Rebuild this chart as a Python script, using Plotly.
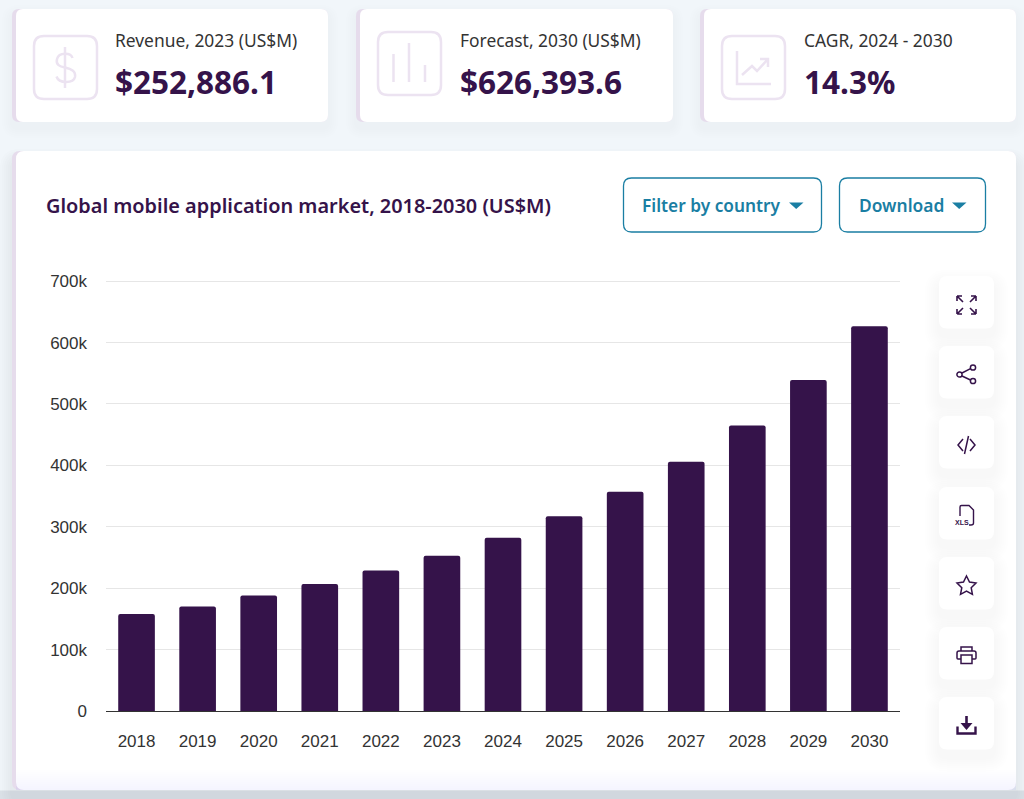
import re
import plotly.graph_objects as go

# chart values
years = ["2018", "2019", "2020", "2021", "2022", "2023", "2024", "2025", "2026", "2027", "2028", "2029", "2030"]
revenue = [158000, 170000, 188000, 207000, 229000, 252886.1, 282000, 317000, 357000, 406000, 465000, 539000, 626393.6]
y_ticks = [0, 100000, 200000, 300000, 400000, 500000, 600000, 700000]
y_tick_labels = ["0", "100k", "200k", "300k", "400k", "500k", "600k", "700k"]

chart_title = "Global mobile application market, 2018-2030 (US$M)"
card_labels = ["Revenue, 2023 (US$M)", "Forecast, 2030 (US$M)", "CAGR, 2024 - 2030"]
card_values = ["$252,886.1", "$626,393.6", "14.3%"]

W, H = 1024, 799
# top margin leaves 2px above the 700k line, plotly drops a gridline sitting on the plot edge
L, R, T, B = 106, 124, 279, 88

PURPLE = "#35134a"
ACCENT = "#ece3f1"
BAND = "#e6dcec"
TEAL = "#1a7ea3"
PAGE = "#f1f6fa"
SANS = "Noto Sans"


def px(x):
    return (x - L) / (W - L - R)


def py(y):
    return 1 - (y - T) / (H - T - B)


def to_paper(d):
    # path written in page pixels -> paper coordinates
    nums = iter(range(10 ** 6))

    def conv(m):
        v = float(m.group())
        return f"{px(v):.5f}" if next(nums) % 2 == 0 else f"{py(v):.5f}"
    return re.sub(r"-?\d+\.?\d*", conv, d)


shapes = []


def path(d, fill=None, line=None, width=1.5):
    shapes.append(dict(
        type="path", xref="paper", yref="paper", path=to_paper(d), layer="below",
        fillcolor=fill or "rgba(0,0,0,0)",
        line=dict(color=line or "rgba(0,0,0,0)", width=width if line else 0),
    ))


def rrect_d(x0, y0, x1, y1, r):
    return (f"M {x0 + r} {y0} L {x1 - r} {y0} Q {x1} {y0} {x1} {y0 + r} "
            f"L {x1} {y1 - r} Q {x1} {y1} {x1 - r} {y1} L {x0 + r} {y1} "
            f"Q {x0} {y1} {x0} {y1 - r} L {x0} {y0 + r} Q {x0} {y0} {x0 + r} {y0} Z")


def rrect(x0, y0, x1, y1, r, fill=None, line=None, width=1.5):
    path(rrect_d(x0, y0, x1, y1, r), fill, line, width)


def circle(cx, cy, r, line):
    shapes.append(dict(
        type="circle", xref="paper", yref="paper", layer="below",
        x0=px(cx - r), x1=px(cx + r), y0=py(cy + r), y1=py(cy - r),
        line=dict(color=line, width=1.5),
    ))


def shadow(x0, y0, x1, y1, r, spread, dy, alpha):
    for i in range(spread, 0, -2):
        rrect(x0 - i, y0 - i + dy, x1 + i, y1 + i + dy, r + i, fill=f"rgba(70,90,110,{alpha})")


def text(x, y, s, size, color, font=SANS, weight=400, anchor="left"):
    annotations.append(dict(
        x=px(x), y=py(y), xref="paper", yref="paper", text=s, showarrow=False,
        xanchor=anchor, yanchor="middle", xshift=0, borderpad=0,
        font=dict(family=font, size=size, color=color, weight=weight),
    ))


annotations = []

# main panel and top cards
shadow(12, 151, 1016, 790, 8, 12, 10, 0.012)
rrect(12, 151, 1016, 790, 8, fill=BAND)
rrect(16, 151, 1016, 790, 8, fill="#ffffff")
for i in range(10):
    path(f"M 16 {770 + i * 2} L 1016 {770 + i * 2} L 1016 790 L 16 790 Z", fill="rgba(90,110,130,0.004)")
path("M 0 790.5 L 1024 790.5 L 1024 799 L 0 799 Z", fill="rgba(120,135,150,0.18)")

card_xs = [(12, 328), (356, 673), (700, 1016)]
box_xs = [(33, 35), (377, 31), (721, 35)]
text_xs = [114, 459, 803]
for n, (x0, x1) in enumerate(card_xs):
    shadow(x0, 9, x1, 122, 7, 10, 6, 0.006)
    rrect(x0, 9, x1, 122, 7, fill=BAND)
    rrect(x0 + 4, 9, x1, 122, 7, fill="#ffffff")
    bx, by = box_xs[n]
    rrect(bx + 1, by + 1, bx + 64, by + 64, 10, line=ACCENT, width=2.5)
    text(text_xs[n], 40, card_labels[n], 17.4, "#333333")
    text(text_xs[n], 82, card_values[n], 31.5, PURPLE, weight=700)

# card icons
path("M 72.5 58 C 71 52.5 59 52 57 59 C 55.5 65 60 66.5 65 67.5 C 71 69 76 71 75 77 "
     "C 73.5 83.5 59 84 56.5 76.5", line=ACCENT, width=2.5)
path("M 65 47 L 65 88", line=ACCENT, width=2.5)
path("M 393.5 54 L 393.5 82 M 409 43 L 409 82 M 425 65 L 425 82", line=ACCENT, width=2.5)
path("M 737 51 L 737 84 L 771 84", line=ACCENT, width=2.5)
path("M 742 75 L 752 66 L 757 71 L 768 59 M 760 59 L 768 59 L 768 67", line=ACCENT, width=2.5)

# header row
text(45, 205, chart_title, 19.9, PURPLE, weight=600)
rrect(623.5, 178, 821.5, 232, 8, line=TEAL, width=1.3)
rrect(839.5, 178, 985.5, 232, 8, line=TEAL, width=1.3)
text(641, 205, "Filter by country", 17.3, TEAL, weight=600)
text(857.5, 205, "Download", 17.4, TEAL, weight=600)
path("M 789 202.5 L 803.5 202.5 L 796.2 209 Z", fill=TEAL)
path("M 952 202.5 L 966.5 202.5 L 959.2 209 Z", fill=TEAL)

# side toolbar
for y0 in [276, 346, 416, 487, 557, 627, 697]:
    shadow(939, y0, 994, y0 + 52.5, 8, 14, 8, 0.006)
    rrect(939, y0, 994, y0 + 52.5, 8, fill="#ffffff")

path("M 957 296 L 963 302 M 957 296 L 957 301 M 957 296 L 962 296 "
     "M 976 296 L 970 302 M 976 296 L 976 301 M 976 296 L 971 296 "
     "M 957 314 L 963 308 M 957 314 L 957 309 M 957 314 L 962 314 "
     "M 976 314 L 970 308 M 976 314 L 976 309 M 976 314 L 971 314", line=PURPLE, width=1.6)
circle(973, 367.5, 2.6, PURPLE)
circle(959.5, 374.5, 2.6, PURPLE)
circle(973, 381, 2.6, PURPLE)
path("M 962 373 L 970.5 368.7 M 962 376 L 970.5 380", line=PURPLE)
path("M 963 439 L 958 445 L 963 451 M 970 439 L 975 445 L 970 451 M 968.5 436 L 964.5 454", line=PURPLE)
path("M 960 516 L 960 507 Q 960 505.5 961.5 505.5 L 969 505.5 L 973.5 510 L 973.5 523 Q 973.5 525 971 525 L 969 525",
     line=PURPLE, width=1.4)
text(962, 522, "XLS", 7, PURPLE, font="Liberation Sans", weight=700, anchor="center")
path("M 966.5 576 L 969.5 582 L 976 583 L 971.2 587.7 L 972.4 594.3 L 966.5 591 L 960.5 594.3 "
     "L 961.8 587.7 L 957 583 L 963.5 582 Z", line=PURPLE)
path("M 961 651 L 961 647 L 972 647 L 972 651 M 961 659 L 958 659 Q 957 659 957 658 L 957 653 Q 957 651 959 651 "
     "L 974 651 Q 976 651 976 653 L 976 658 Q 976 659 975 659 L 972 659 M 961 655 L 972 655 L 972 663.5 L 961 663.5 Z",
     line=PURPLE)
path("M 966.5 716 L 966.5 725", line=PURPLE, width=2.6)
path("M 960.5 723 L 972.5 723 L 966.5 730 Z", fill=PURPLE)
path("M 957.5 726.5 L 957.5 733.5 L 975.5 733.5 L 975.5 726.5", line=PURPLE, width=2.4)

fig = go.Figure(go.Bar(x=years, y=revenue, marker=dict(color=PURPLE, cornerradius=2, line=dict(width=0))))

fig.update_layout(
    width=W,
    height=H,
    margin=dict(l=L, r=R, t=T, b=B, pad=0),
    paper_bgcolor=PAGE,
    plot_bgcolor="rgba(0,0,0,0)",
    bargap=0.4,
    showlegend=False,
    shapes=shapes,
    annotations=annotations,
    font=dict(family="Liberation Sans", size=17, color="#333333"),
    xaxis=dict(
        type="category", showgrid=False, ticks="", ticklabelstandoff=15,
        showline=True, linecolor="#333333", linewidth=1, zeroline=False, range=[-0.5, 12.5],
    ),
    yaxis=dict(
        range=[0, 703500], tickvals=y_ticks, ticktext=y_tick_labels, ticks="", ticklabelstandoff=18,
        gridcolor="#e6e6e6", gridwidth=1, zeroline=False, showline=False,
    ),
)

fig.write_html(
    "out.html",
    config={"displayModeBar": False},
    post_script="document.body.style.margin='0';document.body.style.overflow='hidden';",
)
